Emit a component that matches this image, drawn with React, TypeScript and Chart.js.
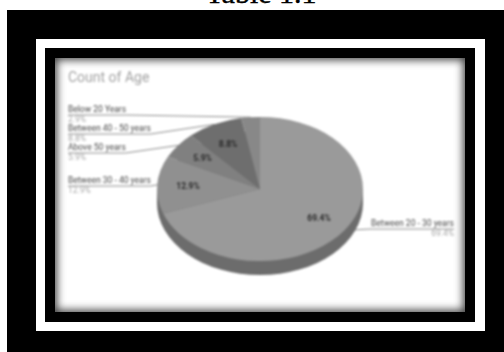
import React, { useEffect, useRef } from "react";
import { Chart, registerables } from "chart.js";

Chart.register(...registerables);

// Survey figures: age bands and their share of responses, clockwise from 12 o'clock.
const ageBands = [
  "Between 20 - 30 years",
  "Between 30 - 40 years",
  "Above 50 years",
  "Between 40 - 50 years",
  "Below 20 Years",
];
const shares = [69.4, 12.9, 5.9, 8.8, 2.9];
const sliceColors = ["#9a9a9a", "#909090", "#808080", "#6e6e6e", "#888888"];

const chartTitle = "Count of Age";
const pageHeading = "Table 1.1";

// Pie tilt: vertical squash, face centre in canvas pixels, height of the side wall.
const TILT = 0.7;
const FACE_Y = 131;
const DEPTH = 14;
const SIDE_COLOR = "#6c6c6c";

// Callout text placement per slice (x, name baseline), in canvas pixels.
const calloutX = [399, 13, 13, 13, 13];
const calloutY = [168, 125, 92, 73, 54];
const calloutAlign: CanvasTextAlign[] = ["right", "left", "left", "left", "left"];

// Slices too narrow to hold their own percentage.
const MIN_INNER_LABEL = 5;

const FONT = "Roboto, 'Liberation Sans', sans-serif";

const tiltedPie = {
  id: "tiltedPie",
  beforeDatasetDraw(chart: any) {
    const ctx = chart.ctx;
    const arcs = chart.getDatasetMeta(0).data;
    const { x, y, outerRadius } = arcs[0].getProps(["x", "y", "outerRadius"], true);

    // Leaders go down first so that the pie covers their ends.
    ctx.save();
    ctx.font = `8.5px ${FONT}`;
    ctx.strokeStyle = "#8c8c8c";
    ctx.lineWidth = 1;
    arcs.forEach((arc: any, i: number) => {
      const { startAngle, endAngle } = arc.getProps(["startAngle", "endAngle"], true);
      const mid = (startAngle + endAngle) / 2;
      const ex = x + Math.cos(mid) * outerRadius;
      const ey = FACE_Y + Math.sin(mid) * outerRadius * TILT;
      const nameWidth = ctx.measureText(ageBands[i]).width;
      const right = calloutAlign[i] === "right";
      const ly = calloutY[i] + 3;
      ctx.beginPath();
      ctx.moveTo(calloutX[i], ly);
      ctx.lineTo(right ? calloutX[i] - nameWidth : calloutX[i] + nameWidth, ly);
      ctx.lineTo(ex, ey);
      ctx.stroke();
    });
    ctx.restore();

    // Side wall sits behind the top face.
    ctx.save();
    ctx.fillStyle = SIDE_COLOR;
    ctx.beginPath();
    ctx.ellipse(x, FACE_Y + DEPTH, outerRadius, outerRadius * TILT, 0, 0, Math.PI * 2);
    ctx.fill();
    ctx.fillRect(x - outerRadius, FACE_Y, outerRadius * 2, DEPTH);
    ctx.restore();

    // Squash the face into an ellipse.
    ctx.save();
    ctx.translate(x, FACE_Y);
    ctx.scale(1, TILT);
    ctx.translate(-x, -y);
  },
  afterDatasetDraw(chart: any) {
    chart.ctx.restore();
  },
  afterDraw(chart: any) {
    const ctx = chart.ctx;
    const arcs = chart.getDatasetMeta(0).data;
    ctx.save();
    ctx.textBaseline = "alphabetic";
    ctx.fillStyle = "#a2a2a2";
    ctx.textAlign = "left";
    ctx.font = `14px ${FONT}`;
    ctx.fillText(chartTitle, 13, 24);

    arcs.forEach((arc: any, i: number) => {
      const { x, startAngle, endAngle, outerRadius } = arc.getProps(
        ["x", "startAngle", "endAngle", "outerRadius"],
        true
      );
      const mid = (startAngle + endAngle) / 2;
      const share = `${shares[i].toFixed(1)}%`;
      if (shares[i] >= MIN_INNER_LABEL) {
        const px = x + Math.cos(mid) * outerRadius * 0.7;
        const py = FACE_Y + Math.sin(mid) * outerRadius * 0.7 * TILT;
        ctx.font = `bold 8.5px ${FONT}`;
        ctx.textAlign = "center";
        ctx.fillStyle = "#2a2a2a";
        ctx.fillText(share, px, py + 3);
      }

      ctx.font = `8.5px ${FONT}`;
      ctx.textAlign = calloutAlign[i];
      ctx.fillStyle = "#484848";
      ctx.fillText(ageBands[i], calloutX[i], calloutY[i]);
      ctx.fillStyle = "#a8a8a8";
      ctx.fillText(share, calloutX[i], calloutY[i] + 10);
    });
    ctx.restore();
  },
};

const box = (
  left: number,
  top: number,
  width: number,
  height: number,
  background: string
): React.CSSProperties => ({ position: "absolute", left, top, width, height, background });

export default function App() {
  const canvasRef = useRef<HTMLCanvasElement>(null);

  useEffect(() => {
    const chart = new Chart(canvasRef.current!, {
      type: "pie",
      data: {
        labels: ageBands,
        datasets: [
          { data: shares, backgroundColor: sliceColors, borderWidth: 0, clip: false } as any,
        ],
      },
      options: {
        responsive: false,
        animation: false,
        layout: { padding: { left: 102, right: 102, top: 0, bottom: 48 } },
        plugins: { legend: { display: false }, tooltip: { enabled: false }, title: { display: false } },
      },
      plugins: [tiltedPie],
    });
    return () => chart.destroy();
  }, []);

  return (
    <div style={{ position: "fixed", left: 0, top: 0, width: 504, height: 352, background: "#fff", overflow: "hidden" }}>
      <div
        style={{
          position: "absolute",
          left: 0,
          width: 522,
          top: -24,
          textAlign: "center",
          font: "30px 'Liberation Serif', serif",
          color: "#000",
          lineHeight: "34px",
          whiteSpace: "nowrap",
          WebkitTextStroke: "0.4px #000",
        }}
      >
        {pageHeading}
      </div>
      <div style={box(7, 10, 497, 342, "#000")} />
      <div style={box(36, 39, 449, 292, "#fff")} />
      <div style={box(45, 48, 430, 274, "#000")} />
      <div style={box(55, 58, 410, 254, "#fff")}>
        <canvas
          ref={canvasRef}
          width={410}
          height={254}
          style={{ display: "block", filter: "blur(1.1px)" }}
        />
        <div
          style={{
            position: "absolute",
            inset: 0,
            boxShadow: "inset 0 0 9px 2px rgba(0,0,0,0.75)",
          }}
        />
      </div>
    </div>
  );
}
